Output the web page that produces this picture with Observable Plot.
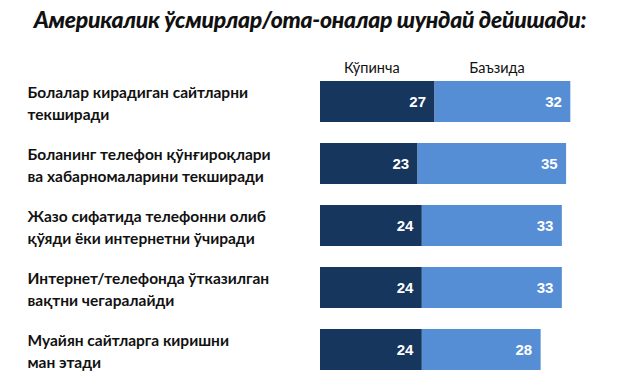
<!DOCTYPE html>
<html>
<head>
<meta charset="utf-8">
<script src="https://cdn.jsdelivr.net/npm/d3@7"></script>
<script src="https://cdn.jsdelivr.net/npm/@observablehq/plot@0.6"></script>
<style>
  html, body { margin: 0; padding: 0; background: #fff; }
  #wrap { width: 620px; height: 391px; overflow: hidden; }
  #title { height: 44px; line-height: 38px; text-align: center; font-family: Lato, "Noto Sans", sans-serif;
    font-weight: 900; font-style: italic; font-size: 23px; color: #111; letter-spacing: -0.3px; }
</style>
</head>
<body>
<div id="wrap">
  <div id="title">Америкалик ўсмирлар/ота-оналар шундай дейишади:</div>
  <div id="chart"></div>
</div>
<script>
const categories = [
  "Болалар кирадиган сайтларни\nтекширади",
  "Боланинг телефон қўнғироқлари\nва хабарномаларини текширади",
  "Жазо сифатида телефонни олиб\nқўяди ёки интернетни ўчиради",
  "Интернет/телефонда ўтказилган\nвақтни чегаралайди",
  "Муайян сайтларга киришни\nман этади"
];
const seriesNames = ["Кўпинча", "Баъзида"];
const often = [27, 23, 24, 24, 24];
const sometimes = [32, 35, 33, 33, 28];
const colors = ["#17365d", "#558ed5"];

const data = [];
categories.forEach((c, i) => {
  data.push({label: c, series: seriesNames[0], value: often[i]});
  data.push({label: c, series: seriesNames[1], value: sometimes[i]});
});
const firstRow = data.filter(d => d.label === categories[0]);

const chart = Plot.plot({
  width: 620,
  height: 347,
  marginTop: 15,
  marginBottom: 0,
  marginLeft: 320,
  marginRight: 3,
  x: {domain: [0, 70], axis: null},
  y: {domain: categories, axis: null, padding: 0.34},
  color: {domain: seriesNames, range: colors},
  style: {fontFamily: "Lato, 'Noto Sans', sans-serif", background: "#fff"},
  marks: [
    Plot.barX(data, Plot.stackX({x: "value", y: "label", fill: "series", order: null})),
    Plot.text(data, Plot.stackX2({x: "value", y: "label", text: d => String(d.value), order: null,
      textAnchor: "end", dx: -9, fill: "white", fontSize: 15, fontWeight: "bold",
      fontFamily: "'Liberation Sans', Arial, sans-serif"})),
    Plot.text(firstRow, Plot.stackX({x: "value", y: "label", text: "series", order: null,
      dy: -34, dx: -6, fill: "#111", fontSize: 14.5})),
    Plot.text(categories, {y: d => d, text: d => d, frameAnchor: "left", textAnchor: "start",
      dx: -293, fill: "#111", fontSize: 15.5, fontWeight: "bold", lineHeight: 1.4})
  ]
});
document.getElementById("chart").appendChild(chart);
</script>
</body>
</html>
